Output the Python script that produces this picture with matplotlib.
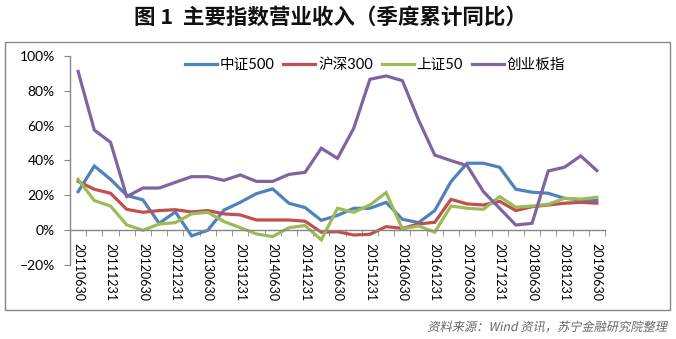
import matplotlib
matplotlib.use("Agg")
import matplotlib.pyplot as plt
from matplotlib.font_manager import FontProperties
from matplotlib.patches import PathPatch, Rectangle
from matplotlib.textpath import TextPath
from matplotlib.ticker import FixedLocator, PercentFormatter
from matplotlib.transforms import Affine2D

QUARTERS = [
    "20110630", "20110930", "20111231", "20120331", "20120630", "20120930",
    "20121231", "20130331", "20130630", "20130930", "20131231", "20140331",
    "20140630", "20140930", "20141231", "20150331", "20150630", "20150930",
    "20151231", "20160331", "20160630", "20160930", "20161231", "20170331",
    "20170630", "20170930", "20171231", "20180331", "20180630", "20180930",
    "20181231", "20190331", "20190630",
]
zz500 = [22.1, 36.8, 29.2, 20.0, 17.4, 4.0, 10.5, -3.2, 0.0, 11.6, 16.0, 21.0,
         23.7, 15.5, 13.0, 5.7, 8.5, 12.6, 12.6, 16.0, 6.3, 4.4, 11.3, 27.9,
         38.4, 38.4, 36.1, 23.5, 21.8, 21.2, 18.3, 17.4, 17.0]
hs300 = [28.0, 23.5, 21.2, 12.0, 10.3, 11.3, 11.8, 10.5, 11.3, 9.4, 8.8, 5.9,
         5.9, 5.9, 5.2, -1.1, -0.8, -2.7, -2.3, 2.1, 1.1, 3.6, 4.6, 17.7,
         15.1, 14.5, 16.6, 11.3, 13.5, 14.5, 15.5, 16.0, 15.5]
sz50 = [29.2, 17.0, 13.9, 3.1, 0.0, 3.6, 4.4, 9.4, 10.3, 5.0, 1.5, -2.1,
        -3.6, 1.5, 2.7, -5.5, 12.6, 10.3, 14.5, 21.6, 0.8, 2.5, -1.1, 13.9,
        12.6, 12.0, 19.3, 13.2, 13.9, 14.9, 18.3, 17.9, 18.9]
cyb = [91.0, 57.4, 50.4, 19.3, 24.2, 24.2, 27.5, 30.7, 30.7, 28.6, 31.7, 28.0,
       28.0, 32.0, 33.2, 47.0, 41.2, 58.4, 86.5, 88.4, 85.7, 63.2, 43.1, 39.9,
       37.0, 22.1, 12.6, 3.0, 4.0, 34.0, 36.1, 42.6, 34.2]

SERIES = [
    ("中证500", zz500, "#4F81BD"),
    ("沪深300", hs300, "#C0504D"),
    ("上证50", sz50, "#9BBB59"),
    ("创业板指", cyb, "#8064A2"),
]
TITLE = "图 1  主要指数营业收入（季度累计同比）"
SOURCE = "资料来源：Wind 资讯，苏宁金融研究院整理"

plt.rcParams["font.family"] = ["Lato", "Noto Sans CJK SC", "DejaVu Sans"]

W, H, DPI = 676, 339, 100
fig = plt.figure(figsize=(W / DPI, H / DPI), dpi=DPI, facecolor="white")

# outer chart border
fig.patches.append(Rectangle((5 / W, 1 - 310 / H), 665 / W, 268 / H,
                             transform=fig.transFigure, fill=False,
                             edgecolor="#868686", linewidth=1.0))

ax = fig.add_axes([70 / W, 1 - 265.2 / H, 535 / W, 209.5 / H])
x = list(range(len(QUARTERS)))
for name, values, color in SERIES:
    ax.plot(x, values, color=color, linewidth=2.3, label=name,
            solid_joinstyle="miter")

ax.set_xlim(-0.5, len(QUARTERS) - 0.5)
ax.set_ylim(-20, 100)
ax.set_yticks([-20, 0, 20, 40, 60, 80, 100])
ax.yaxis.set_major_formatter(PercentFormatter(decimals=0))

for side in ("top", "right"):
    ax.spines[side].set_visible(False)
ax.spines["bottom"].set_position(("data", 0))
for side in ("left", "bottom"):
    ax.spines[side].set_color("#868686")
    ax.spines[side].set_linewidth(1.0)

ax.set_xticks(x[::2])
ax.set_xticklabels(QUARTERS[::2], rotation=270, fontsize=9)
ax.xaxis.set_minor_locator(FixedLocator([i - 0.5 for i in range(len(QUARTERS) + 1)]))
ax.tick_params(axis="x", which="major", length=0, pad=9)
ax.tick_params(axis="x", which="minor", length=4, color="#868686", direction="out")
ax.tick_params(axis="y", length=4, color="#868686", labelsize=10, pad=7)

ax.legend(loc="center", bbox_to_anchor=(0.57, 0.955), ncol=4, frameon=False,
          fontsize=10.5, handlelength=2.2, handletextpad=0.2, columnspacing=0.6)

fig.text(0.489, 1 - 17 / H, TITLE, ha="center", va="center", fontsize=15.5,
         fontweight="bold", family=["Noto Sans CJK SC", "DejaVu Sans"],
         color="#111111")

# italic source note: CJK font has no italic face, so skew the glyph outlines
src_path = TextPath((0, 0), SOURCE, size=8.8,
                    prop=FontProperties(family="Noto Sans CJK SC"))
src_w = src_path.get_extents().width * DPI / 72
src_tf = (Affine2D().skew_deg(12, 0).scale(DPI / 72)
          .translate(668 - src_w - 2, H - 331))
fig.patches.append(PathPatch(src_path, transform=src_tf, facecolor="#666666",
                             edgecolor="none"))

fig.savefig("out.png", dpi=DPI, facecolor="white")
